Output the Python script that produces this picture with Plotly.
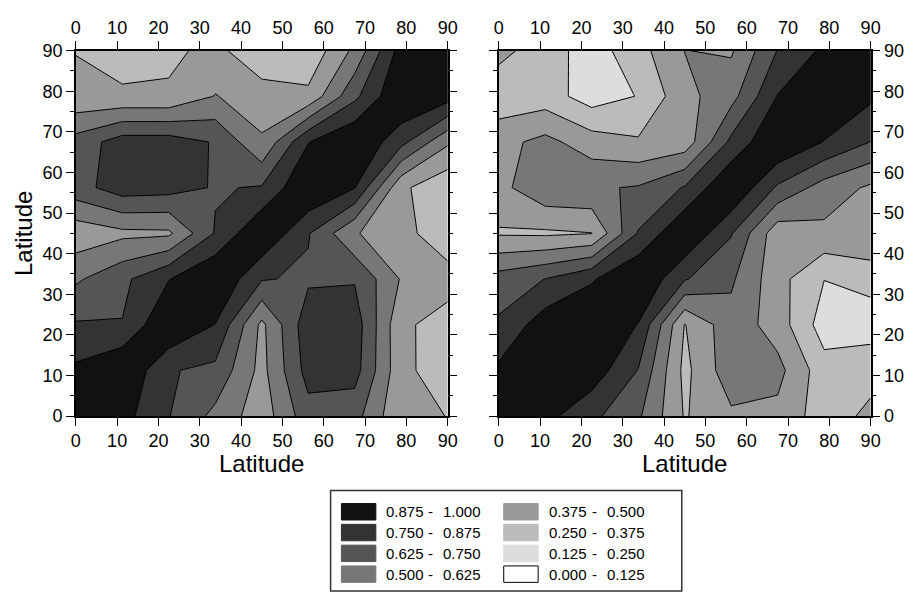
import plotly.graph_objects as go

W, H = 919, 603

# Grid of latitudes (degrees) shared by both axes of each panel
lat = [0, 11.25, 22.5, 33.75, 45, 56.25, 67.5, 78.75, 90]
tick_vals = [0, 10, 20, 30, 40, 50, 60, 70, 80, 90]

# Correlation fields: rows go south -> north (y), columns west -> east (x)
corr_left = [
    [1.00, 0.92, 0.755, 0.59, 0.43, 0.70, 0.673, 0.39, 0.374],
    [0.90, 1.00, 0.76, 0.72, 0.46, 0.80, 0.80, 0.41, 0.30],
    [0.762, 0.755, 1.00, 0.872, 0.47, 0.83, 0.82, 0.40, 0.32],
    [0.605, 0.72, 0.87, 1.00, 0.76, 0.73, 0.74, 0.49, 0.43],
    [0.42, 0.47, 0.477, 0.76, 1.00, 0.76, 0.51, 0.42, 0.29],
    [0.70, 0.815, 0.80, 0.74, 0.76, 1.00, 0.88, 0.40, 0.28],
    [0.675, 0.81, 0.81, 0.74, 0.515, 0.87, 1.00, 0.79, 0.52],
    [0.40, 0.395, 0.395, 0.505, 0.44, 0.405, 0.72, 1.00, 0.93],
    [0.372, 0.32, 0.345, 0.415, 0.267, 0.28, 0.53, 0.93, 1.00],
]
corr_right = [
    [1.00, 0.915, 0.78, 0.645, 0.365, 0.477, 0.466, 0.31, 0.405],
    [0.90, 1.00, 0.95, 0.745, 0.34, 0.58, 0.54, 0.30, 0.33],
    [0.77, 0.945, 1.00, 0.87, 0.37, 0.58, 0.44, 0.19, 0.19],
    [0.68, 0.752, 0.86, 1.00, 0.76, 0.645, 0.42, 0.252, 0.29],
    [0.362, 0.355, 0.372, 0.76, 1.00, 0.76, 0.42, 0.47, 0.497],
    [0.46, 0.60, 0.61, 0.635, 0.76, 1.00, 0.73, 0.57, 0.48],
    [0.46, 0.536, 0.434, 0.39, 0.424, 0.78, 1.00, 0.87, 0.748],
    [0.29, 0.309, 0.19, 0.255, 0.46, 0.58, 0.88, 1.00, 0.90],
    [0.413, 0.31, 0.19, 0.328, 0.502, 0.485, 0.755, 0.90, 1.00],
]

# Class boundaries and their gray fills (lowest class first)
levels = [0.0, 0.125, 0.25, 0.375, 0.5, 0.625, 0.75, 0.875, 1.0]
grays = ["#ffffff", "#dddddd", "#bbbbbb", "#999999",
         "#777777", "#555555", "#333333", "#111111"]

FONT = "Liberation Sans, Arial, Helvetica, sans-serif"
n_cls = len(grays)
colorscale = [[k / (n_cls - 1), grays[k]] for k in range(n_cls)]
step = levels[1] - levels[0]


def contour(z, xa, ya):
    return go.Contour(
        x=lat, y=lat, z=z, xaxis=xa, yaxis=ya,
        colorscale=colorscale, showscale=False, autocontour=False,
        contours=dict(start=levels[1], end=levels[-2], size=step,
                      coloring="fill", showlines=True),
        line=dict(color="black", width=1, smoothing=0),
        hoverinfo="skip",
    )


fig = go.Figure()
fig.add_trace(contour(corr_left, "x", "y"))
fig.add_trace(contour(corr_right, "x2", "y2"))
# Empty traces so the top (label-only) axes get drawn
fig.add_trace(go.Scatter(x=[], y=[], xaxis="x3", yaxis="y", hoverinfo="skip"))
fig.add_trace(go.Scatter(x=[], y=[], xaxis="x4", yaxis="y2", hoverinfo="skip"))

# Panel geometry in pixels
LX0, LX1 = 72, 450
RX0, RX1 = 502, 880
PY0, PY1 = 42, 420


def px(v):
    return v / W


def py(v):
    return 1 - v / H


tickfont = dict(family=FONT, size=18, color="black")
common = dict(range=[0, 90], tickvals=tick_vals, ticks="outside", ticklen=8,
              tickwidth=1.2, tickcolor="black", showgrid=False, zeroline=False,
              tickfont=tickfont, fixedrange=True)
frame = dict(showline=True, linecolor="black", linewidth=1.5, mirror="ticks")
yminor = dict(dtick=5, ticklen=4, ticks="outside", tickcolor="black", tickwidth=1)

fig.update_layout(
    width=W, height=H,
    margin=dict(l=0, r=0, t=0, b=0),
    paper_bgcolor="white", plot_bgcolor="white",
    showlegend=False,
    xaxis=dict(domain=[px(LX0), px(LX1)], anchor="y", **common, **frame),
    yaxis=dict(domain=[py(PY1), py(PY0)], anchor="x", minor=yminor, **common, **frame),
    xaxis2=dict(domain=[px(RX0), px(RX1)], anchor="y2", **common, **frame),
    yaxis2=dict(domain=[py(PY1), py(PY0)], anchor="x2", side="right",
                minor=yminor, **common, **frame),
    xaxis3=dict(overlaying="x", anchor="y", side="top", **common),
    xaxis4=dict(overlaying="x2", anchor="y2", side="top", **common),
)

title_font = dict(family=FONT, size=24, color="black")
annotations = [
    dict(text="Latitude", x=px((LX0 + LX1) / 2), y=py(469), xref="paper", yref="paper",
         showarrow=False, font=title_font, xanchor="center", yanchor="middle"),
    dict(text="Latitude", x=px((RX0 + RX1) / 2), y=py(469), xref="paper", yref="paper",
         showarrow=False, font=title_font, xanchor="center", yanchor="middle"),
    dict(text="Latitude", x=px(19), y=py((PY0 + PY1) / 2), xref="paper", yref="paper",
         showarrow=False, font=title_font, textangle=-90,
         xanchor="center", yanchor="middle"),
]

# Legend box with two columns of class swatches
shapes = [dict(type="rect", xref="paper", yref="paper",
               x0=px(331), x1=px(688), y0=py(601), y1=py(497),
               line=dict(color="#333333", width=1.5), fillcolor="white")]
legend_font = dict(family=FONT, size=15, color="black")
row_centers = [519, 540.5, 562, 583.5]
columns = [dict(sw0=342, sw1=377, t0=385, dash=433, t1=443),
           dict(sw0=507, sw1=542, t0=551.5, dash=599.5, t1=609.5)]
order = list(range(n_cls - 1, -1, -1))  # highest class first
for n, k in enumerate(order):
    col = columns[n // 4]
    yc = row_centers[n % 4]
    shapes.append(dict(type="rect", xref="paper", yref="paper",
                       x0=px(col["sw0"]), x1=px(col["sw1"]),
                       y0=py(yc + 8.5), y1=py(yc - 8.5),
                       fillcolor=grays[k],
                       line=dict(color="black" if k == 0 else grays[k], width=1)))
    for txt, xpos, anchor in [(f"{levels[k]:.3f}", col["t0"], "left"),
                              ("-", col["dash"], "center"),
                              (f"{levels[k + 1]:.3f}", col["t1"], "left")]:
        annotations.append(dict(text=txt, x=px(xpos), y=py(yc), xref="paper",
                                yref="paper", showarrow=False, font=legend_font,
                                xanchor=anchor, yanchor="middle"))

fig.update_layout(annotations=annotations, shapes=shapes)
fig.write_html("out.html")
